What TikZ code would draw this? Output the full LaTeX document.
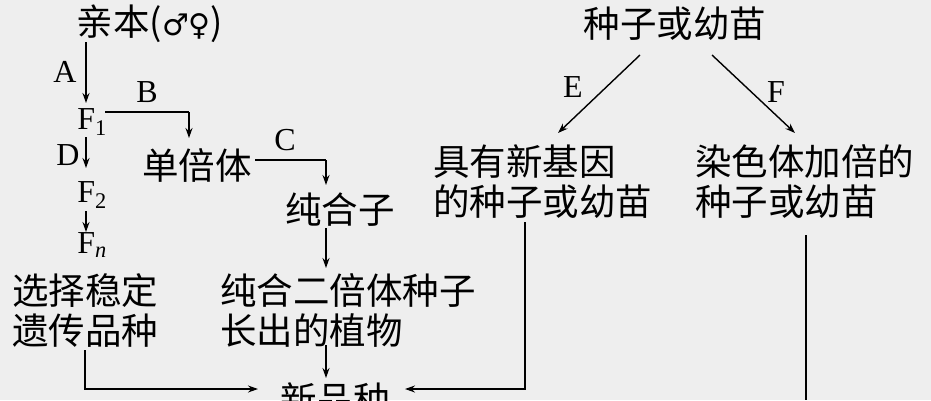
\documentclass[tikz,border=0pt]{standalone}
\usepackage{fontspec}
\usetikzlibrary{arrows.meta}
\setmainfont{Liberation Serif}
\newfontfamily\cjk{Noto Sans CJK SC}
\newfontfamily\sym{DejaVu Sans}
\begin{document}
\begin{tikzpicture}[x=1pt,y=1pt,
  lab/.style={inner sep=0pt,font=\fontsize{32}{36}\selectfont},
  zh/.style={inner sep=0pt,font=\cjk\fontsize{36.5}{40}\selectfont,align=left},
  ar/.style={line width=1.4pt,-{Stealth[length=10pt,width=7pt]}},
  ln/.style={line width=1.4pt}]
\useasboundingbox (0,0) rectangle (931,-400);
\fill[gray!13] (0,0) rectangle (931,-400);
\begin{scope}
\clip (0,0) rectangle (931,-400);
\node[zh] (p) at (150,-24) {亲本({\sym\fontsize{30}{32}\selectfont ♂♀})};
\node[lab] (A) at (65,-72) {A};
\node[lab] (F1) at (92,-122) {F\textsubscript{1}};
\node[lab] (D) at (68,-155) {D};
\node[lab] (F2) at (92,-195) {F\textsubscript{2}};
\node[lab] (Fn) at (92,-245) {F\textsubscript{\itshape n}};
\node[zh,anchor=west] (sel) at (12,-310) {选择稳定\\遗传品种};
\node[lab] (B) at (147,-92) {B};
\node[zh] (dan) at (197,-165) {单倍体};
\node[lab] (C) at (285,-140) {C};
\node[zh] (chun) at (340,-210) {纯合子};
\node[zh,anchor=west] (er) at (220,-310) {纯合二倍体种子\\长出的植物};
\node[zh] (new) at (335,-400) {新品种};
\node[zh] (top) at (675,-24) {种子或幼苗};
\node[lab] (E) at (573,-87) {E};
\node[lab] (F) at (776,-92) {F};
\node[zh,anchor=west] (ju) at (433,-182) {具有新基因\\的种子或幼苗};
\node[zh,anchor=west] (ran) at (695,-182) {染色体加倍的\\种子或幼苗};
\coordinate (b1) at (105,-112); \coordinate (b2) at (189,-112); \coordinate (b3) at (189,-138);
\coordinate (c1) at (255,-160); \coordinate (c2) at (326,-160); \coordinate (c3) at (326,-185);
\draw[ar] (86,-42) -- (86,-103);
\draw[ar] (86,-137) -- (86,-168);
\draw[ar] (86,-211) -- (86,-232);
\draw[ln] (b1) -- (b2); \draw[ar] (b2) -- (b3);
\draw[ln] (c1) -- (c2); \draw[ar] (c2) -- (c3);
\draw[ar] (326,-228) -- (326,-268);
\draw[ar] (326,-345) -- (326,-378);
\draw[ar] (85,-350) -- (85,-389) -- (258,-389);
\draw[ar] (525,-222) -- (525,-389) -- (405,-389);
\draw[ar] (640,-55) -- (558,-133);
\draw[ar] (712,-55) -- (795,-133);
\draw[ln] (806,-235) -- (806,-400);
\end{scope}
\end{tikzpicture}
\end{document}
